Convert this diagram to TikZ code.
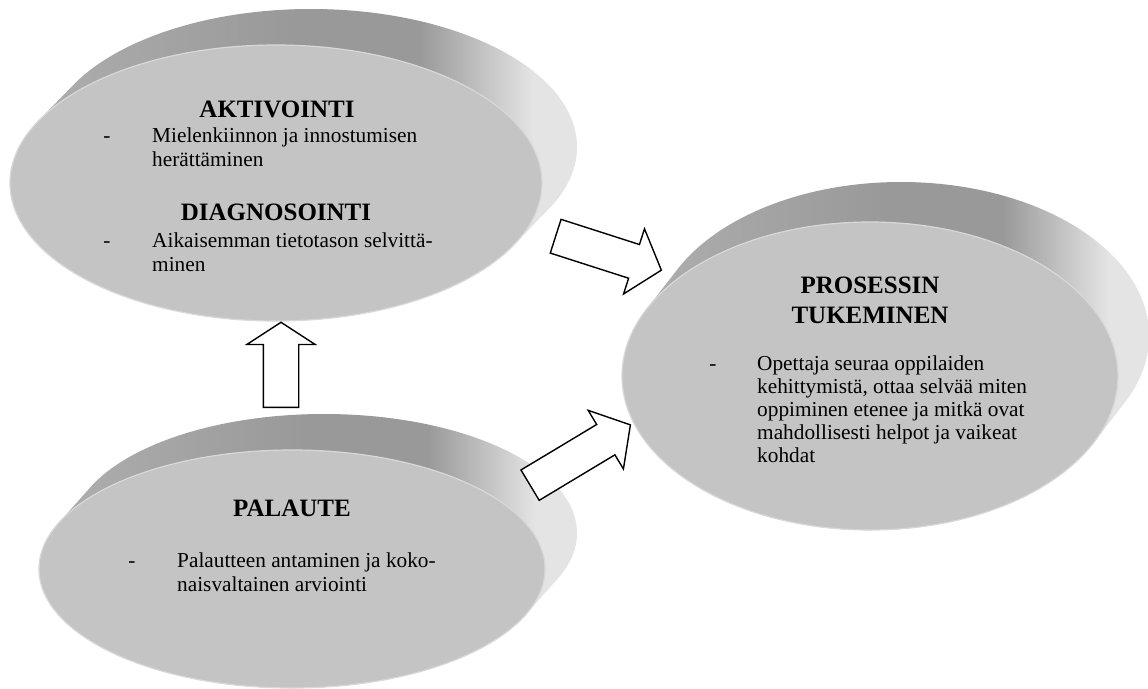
\documentclass[tikz,border=0pt]{standalone}
\usepackage{fontspec}
\setmainfont{Liberation Serif}
\usetikzlibrary{shapes.arrows,shapes.geometric}

\definecolor{faceg}{HTML}{C4C4C4}
\definecolor{edgeg}{HTML}{D8D8D8}
\definecolor{rimmid}{HTML}{B0B0B0}
\definecolor{rimdark}{HTML}{999999}
\definecolor{rimlight}{HTML}{E4E4E4}
\pgfdeclarehorizontalshading{rimshade}{100bp}{color(0bp)=(rimmid); color(25bp)=(rimmid);
  color(50bp)=(rimdark); color(61bp)=(rimdark); color(71bp)=(rimlight); color(100bp)=(rimlight)}

% side of a disc: the face ellipse slid back by (#5,#6), shaded
\newcommand{\discrim}[6]{%
  \begin{scope}
    \clip \foreach \k in {0,...,16} {({#1+\k*#5/16}, {#2+\k*(#6)/16}) ellipse [x radius=#3, y radius=#4]};
    \shade[shading=rimshade] ({#1-#3-2}, {#2+(#6)-#4-2}) rectangle ({#1+#5+#3+2}, {#2+#4+2});
  \end{scope}}

\begin{document}
\begin{tikzpicture}[
  x=1pt, y=-1pt,
  face/.style={ellipse, fill=faceg, draw=edgeg, line width=1.2pt, inner sep=0pt},
  hdr/.style={font=\fontsize{25}{30}\selectfont\bfseries, align=center, inner sep=0pt, anchor=base},
  itm/.style={font=\fontsize{21.3}{24}\selectfont, align=left, inner sep=0pt, anchor=base west},
  dsh/.style={font=\fontsize{21.3}{24}\selectfont, inner sep=0pt, anchor=base},
  barrow/.style={single arrow, draw=black, fill=white, line width=1.4pt, inner xsep=0pt,
                 inner ysep=17pt, single arrow head extend=16.5, single arrow tip angle=100,
                 anchor=tail}
]
\path[use as bounding box, fill=white] (0,0) rectangle (1148,688);

\discrim{276}{183}{266}{138}{35}{-36}
\discrim{870}{376}{248}{154}{31}{-40}
\discrim{292}{569}{253}{119}{32}{-36}

\node[face, minimum width=532, minimum height=276] (akt) at (276,183) {};
\node[face, minimum width=496, minimum height=308] (pro) at (870,376) {};
\node[face, minimum width=506, minimum height=238] (pal) at (292,569) {};

% multi-line texts are placed at the baseline of their last line
\node[hdr] (aktt) at (277,117) {AKTIVOINTI};
\node[dsh] (aktd) at (107,142) {-};
\node[itm] (akti) at (152,166) {Mielenkiinnon ja innostumisen\\herättäminen};
\node[hdr] (diat) at (276,220) {DIAGNOSOINTI};
\node[dsh] (diad) at (107,247) {-};
\node[itm] (diai) at (152,271) {Aikaisemman tietotason selvittä-\\minen};

\node[hdr] (prot) at (870,323) {PROSESSIN\\TUKEMINEN};
\node[dsh] (prod) at (713,370) {-};
\node[itm, font=\fontsize{21.3}{23.2}\selectfont] (proi) at (757,462.8)
  {Opettaja seuraa oppilaiden\\kehittymistä, ottaa selvää miten\\oppiminen etenee ja mitkä ovat\\mahdollisesti helpot ja vaikeat\\kohdat};

\node[hdr] (palt) at (292,516) {PALAUTE};
\node[dsh] (pald) at (132,567) {-};
\node[itm] (pali) at (177,591) {Palautteen antaminen ja koko-\\naisvaltainen arviointi};

% block arrows between the discs
\node[barrow, minimum height=85, single arrow tip angle=114, rotate=90] (upar) at (281,408) {};
\node[barrow, minimum height=111, rotate=-17.8] (toppr) at (555,236) {};
\node[barrow, minimum height=117, rotate=31] (palpr) at (529.5,485.5) {};
\end{tikzpicture}
\end{document}
